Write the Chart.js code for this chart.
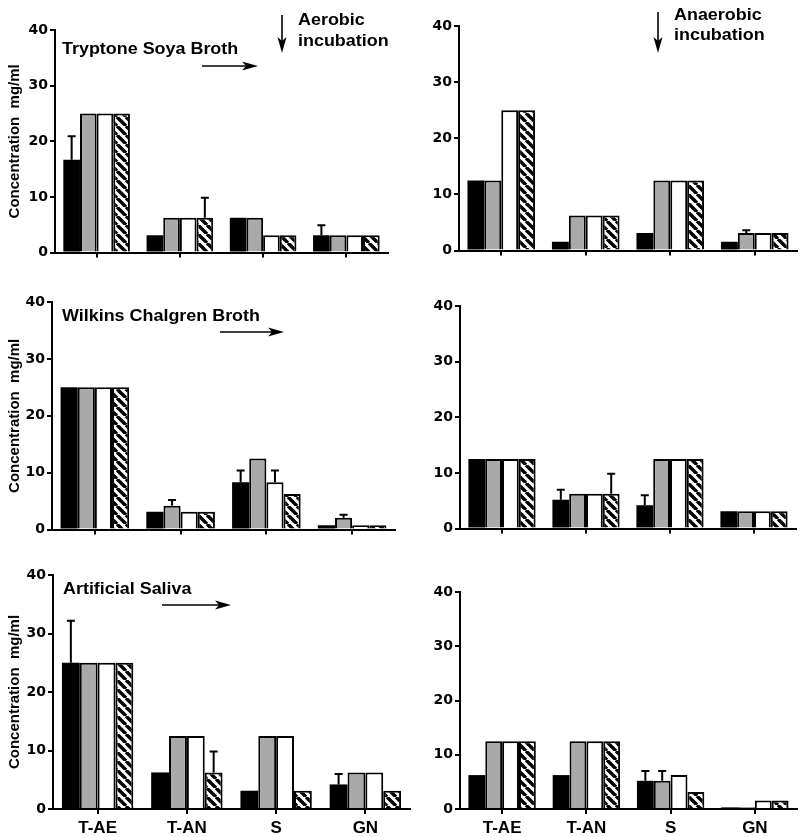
<!DOCTYPE html>
<html>
<head>
<meta charset="utf-8">
<script src="https://cdn.jsdelivr.net/npm/chart.js@4.4.1/dist/chart.umd.min.js"></script>
<style>
  body { margin: 0; background: #fff; }
  #wrap { position: relative; width: 800px; height: 837px; overflow: hidden; }
  canvas { position: absolute; }
  .lbl { position: absolute; font: bold 16px "Liberation Sans", Arial, sans-serif; color: #000; line-height: 16px;
         white-space: nowrap; transform: scaleX(1.12); transform-origin: left center; }
  svg { position: absolute; left: 0; top: 0; }
</style>
</head>
<body>
<div id="wrap">
  <canvas id="c1"></canvas>
  <canvas id="c2"></canvas>
  <canvas id="c3"></canvas>
  <canvas id="c4"></canvas>
  <canvas id="c5"></canvas>
  <canvas id="c6"></canvas>

  <div class="lbl" style="left:62px; top:41px;">Tryptone Soya Broth</div>
  <div class="lbl" style="left:298px; top:12px;">Aerobic</div>
  <div class="lbl" style="left:298px; top:33px;">incubation</div>
  <div class="lbl" style="left:674px; top:7px;">Anaerobic</div>
  <div class="lbl" style="left:674px; top:27px;">incubation</div>
  <div class="lbl" style="left:62px; top:308px;">Wilkins Chalgren Broth</div>
  <div class="lbl" style="left:63px; top:581px;">Artificial Saliva</div>

  <svg width="800" height="837">
    <g stroke="#000" stroke-width="1.6" fill="#000">
      <line x1="202" y1="66" x2="250" y2="66"/>
      <polygon points="258,66 242,61.5 246,66 242,70.5" stroke="none"/>
      <line x1="220" y1="332" x2="276" y2="332"/>
      <polygon points="284,332 268,327.5 272,332 268,336.5" stroke="none"/>
      <line x1="162" y1="605" x2="223" y2="605"/>
      <polygon points="231,605 215,600.5 219,605 215,609.5" stroke="none"/>
      <line x1="282" y1="15" x2="282" y2="45"/>
      <polygon points="282,53 277.5,37 282,41 286.5,37" stroke="none"/>
      <line x1="658" y1="12" x2="658" y2="45"/>
      <polygon points="658,53 653.5,37 658,41 662.5,37" stroke="none"/>
    </g>
  </svg>
</div>

<script>
// categories and y ticks
const categories = ['T-AE', 'T-AN', 'S', 'GN'];
const yTicks = [0, 10, 20, 30, 40];

// each panel: [black, grey, white, hatched] series, values in mg/ml
const tsbAerobic = [
  [16.7, 3.125, 6.25, 3.125],
  [25, 6.25, 6.25, 3.125],
  [25, 6.25, 3.125, 3.125],
  [25, 6.25, 3.125, 3.125]
];
const tsbAerobicErr = [
  [4.2, 0, 0, 1.8],
  [0, 0, 0, 0],
  [0, 0, 0, 0],
  [0, 3.6, 0, 0]
];

const tsbAnaerobic = [
  [12.5, 1.5625, 3.125, 1.5625],
  [12.5, 6.25, 12.5, 3.125],
  [25, 6.25, 12.5, 3.125],
  [25, 6.25, 12.5, 3.125]
];
const tsbAnaerobicErr = [
  [0, 0, 0, 0],
  [0, 0, 0, 0.5],
  [0, 0, 0, 0],
  [0, 0, 0, 0]
];

const wcbAerobic = [
  [25, 3.125, 8.3, 0.78],
  [25, 4.2, 12.5, 2.1],
  [25, 3.125, 8.3, 0.78],
  [25, 3.125, 6.25, 0.78]
];
const wcbAerobicErr = [
  [0, 0, 2.1, 0],
  [0, 1.0, 0, 0.5],
  [0, 0, 2.1, 0],
  [0, 0, 0, 0]
];

const wcbAnaerobic = [
  [12.5, 5.2, 4.2, 3.125],
  [12.5, 6.25, 12.5, 3.125],
  [12.5, 6.25, 12.5, 3.125],
  [12.5, 6.25, 12.5, 3.125]
];
const wcbAnaerobicErr = [
  [0, 1.8, 1.8, 0],
  [0, 0, 0, 0],
  [0, 0, 0, 0],
  [0, 3.6, 0, 0]
];

const salivaAerobic = [
  [25, 6.25, 3.125, 4.2],
  [25, 12.5, 12.5, 6.25],
  [25, 12.5, 12.5, 6.25],
  [25, 6.25, 3.125, 3.125]
];
const salivaAerobicErr = [
  [7.2, 0, 0, 1.8],
  [0, 0, 0, 0],
  [0, 0, 0, 0],
  [0, 3.6, 0, 0]
];

const salivaAnaerobic = [
  [6.25, 6.25, 5.2, 0.3],
  [12.5, 12.5, 5.2, 0.3],
  [12.5, 12.5, 6.25, 1.5625],
  [12.5, 12.5, 3.125, 1.5625]
];
const salivaAnaerobicErr = [
  [0, 0, 1.8, 0],
  [0, 0, 1.8, 0],
  [0, 0, 0, 0],
  [0, 0, 0, 0]
];

// hatch pattern for 4th series
function makeHatch() {
  const s = 9;
  const c = document.createElement('canvas');
  c.width = s; c.height = s;
  const g = c.getContext('2d');
  g.fillStyle = '#fff';
  g.fillRect(0, 0, s, s);
  g.strokeStyle = '#000';
  g.lineWidth = 3.4;
  g.beginPath();
  for (let k = -1; k <= 1; k++) {
    g.moveTo(k * s, 0);
    g.lineTo(k * s + s, s);
  }
  g.stroke();
  return document.createElement('canvas').getContext('2d').createPattern(c, 'repeat');
}
const hatch = makeHatch();
const fills = ['#000000', '#a9a9a9', '#ffffff', hatch];
// black bars need no outline (avoids a seam inside them)
const outlines = [0, 2, 2, 2];

// error bars, upward only
const errorBars = {
  id: 'errorBars',
  afterDatasetsDraw(chart) {
    const ctx = chart.ctx;
    const yScale = chart.scales.y;
    ctx.save();
    ctx.strokeStyle = '#000';
    ctx.lineWidth = 2;
    chart.data.datasets.forEach((ds, di) => {
      const meta = chart.getDatasetMeta(di);
      ds.errors.forEach((e, i) => {
        if (!e) return;
        const bar = meta.data[i];
        const top = yScale.getPixelForValue(ds.data[i] + e);
        ctx.beginPath();
        ctx.moveTo(bar.x, bar.y);
        ctx.lineTo(bar.x, top);
        ctx.moveTo(bar.x - 4, top);
        ctx.lineTo(bar.x + 4, top);
        ctx.stroke();
      });
    });
    ctx.restore();
  }
};

const font = '"Liberation Sans", Arial, sans-serif';
const tickFont = '"DejaVu Sans", sans-serif';

// area = chart area box in page pixels
function makePanel(id, series, errs, area, opts) {
  const canvas = document.getElementById(id);
  const x0 = opts.right ? 400 : 0;
  const padTop = 12;
  const xH = opts.labels ? 32 : 10;
  const w = area.r - x0 + 4;
  const h = area.b - area.t + padTop + xH;
  canvas.style.left = x0 + 'px';
  canvas.style.top = (area.t - padTop) + 'px';
  canvas.width = w; canvas.height = h;
  canvas.style.width = w + 'px'; canvas.style.height = h + 'px';
  const yW = area.l - x0;

  new Chart(canvas, {
    type: 'bar',
    data: {
      labels: categories,
      datasets: series.map((d, i) => ({
        label: 'series ' + (i + 1),
        data: d,
        errors: errs[i],
        backgroundColor: fills[i],
        borderColor: '#000',
        borderWidth: outlines[i],
        categoryPercentage: 0.8,
        barPercentage: 1.0
      }))
    },
    options: {
      responsive: false,
      animation: false,
      layout: { padding: { top: padTop, right: 4, left: 0, bottom: 0 } },
      plugins: { legend: { display: false }, tooltip: { enabled: false } },
      scales: {
        x: {
          afterFit: s => { s.height = xH; },
          grid: { offset: false, drawOnChartArea: false, color: '#000', lineWidth: 2, tickLength: 5 },
          border: { color: '#000', width: 2 },
          ticks: { display: !!opts.labels, color: '#000', font: { family: font, size: 17, weight: 'bold' }, padding: 4, maxRotation: 0 }
        },
        y: {
          min: 0, max: 40,
          afterFit: s => { s.width = yW; },
          afterBuildTicks: s => { s.ticks = yTicks.map(v => ({ value: v })); },
          grid: { drawOnChartArea: false, color: '#000', lineWidth: 2, tickLength: 5 },
          border: { color: '#000', width: 2 },
          ticks: { color: '#000', font: { family: tickFont, size: 14, weight: 'bold' }, padding: 2 },
          title: {
            display: !opts.right,
            text: 'Concentration  mg/ml',
            color: '#000',
            font: { family: font, size: 15, weight: 'bold' },
            padding: { top: 6, bottom: 0 }
          }
        }
      }
    },
    plugins: [errorBars]
  });
}

makePanel('c1', tsbAerobic, tsbAerobicErr, { l: 55, t: 30, r: 388, b: 253 }, {});
makePanel('c2', tsbAnaerobic, tsbAnaerobicErr, { l: 459, t: 26, r: 797, b: 251 }, { right: true });
makePanel('c3', wcbAerobic, wcbAerobicErr, { l: 52, t: 302, r: 395, b: 530 }, {});
makePanel('c4', wcbAnaerobic, wcbAnaerobicErr, { l: 460, t: 306, r: 796, b: 529 }, { right: true });
makePanel('c5', salivaAerobic, salivaAerobicErr, { l: 53, t: 575, r: 410, b: 809 }, { labels: true });
makePanel('c6', salivaAnaerobic, salivaAnaerobicErr, { l: 460, t: 592, r: 797, b: 809 }, { right: true, labels: true });
</script>
</body>
</html>
